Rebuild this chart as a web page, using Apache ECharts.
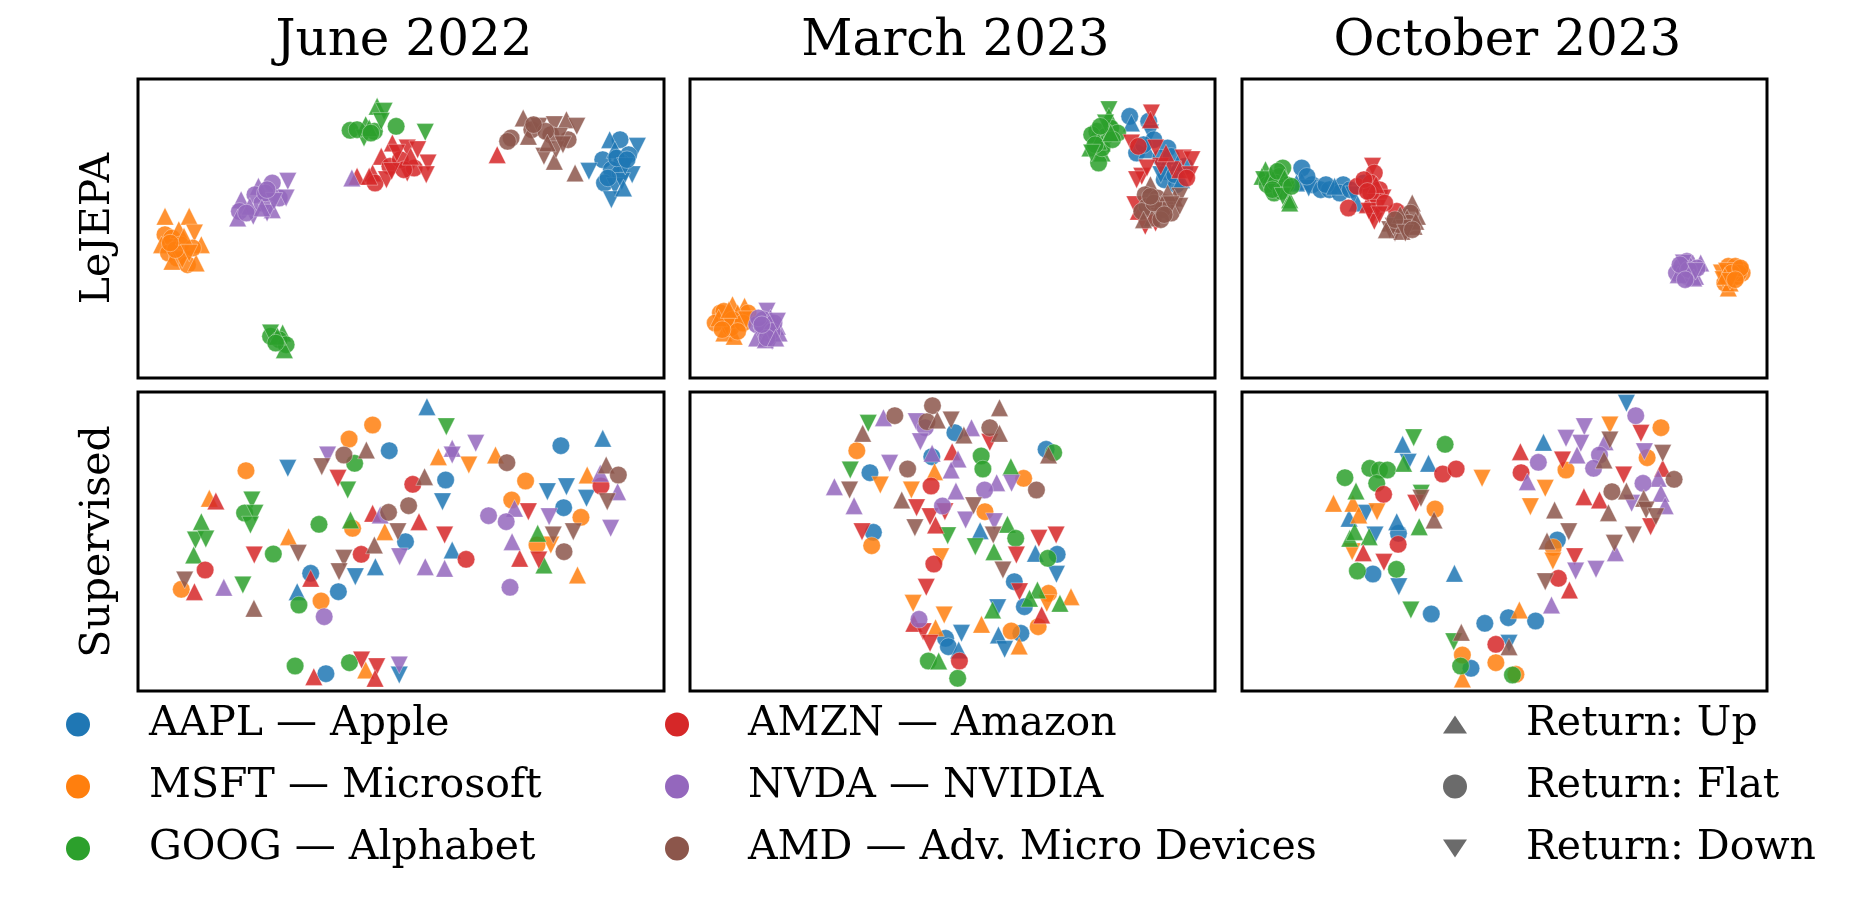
<!DOCTYPE html>
<html><head><meta charset="utf-8">
<script src="https://cdn.jsdelivr.net/npm/echarts@6/dist/echarts.min.js"></script>
<style>html,body{margin:0;padding:0;background:#fff}#c{width:1851px;height:900px}</style>
</head><body><div id="c"></div>
<script>
// ---- categories ----
const TICKERS = ['A','M','G','R','P','B'];
const TICKER_NAMES = ['AAPL — Apple','MSFT — Microsoft','GOOG — Alphabet','AMZN — Amazon','NVDA — NVIDIA','AMD — Adv. Micro Devices'];
const TICKER_COLORS = ['#1f77b4','#ff7f0e','#2ca02c','#d62728','#9467bd','#8c564b'];
const RETURN_NAMES = ['Return: Up','Return: Flat','Return: Down'];
const PERIODS = ['June 2022','March 2023','October 2023'];
const METHODS = ['LeJEPA','Supervised'];

// ---- embedding points: [ticker, return(u/f/d), x, y] ----
const lejepaJun = [
['A','f',139.3,71.5],['A','u',136.3,71.5],['A','d',144.3,69.5],['A','f',141.8,67.0],['A','f',134.3,65.5],['A','f',139.8,64.5],['A','d',130.3,62.0],['A','f',136.8,62.5],['A','f',139.3,61.5],['A','d',142.8,61.0],['A','f',134.8,58.5],['A','d',137.8,57.5],['A','d',136.8,53.5],['A','u',137.8,68.5],['A','d',139.8,59.0],['A','f',138.3,66.0],['A','d',140.8,63.5],['A','f',135.8,60.0],['A','u',140.3,57.0],['A','f',141.3,65.5],
['M','u',7.8,48.5],['M','u',14.8,48.5],['M','d',16.3,43.5],['M','f',7.8,43.0],['M','f',9.8,42.0],['M','u',6.8,40.0],['M','u',11.8,44.5],['M','u',18.3,40.0],['M','f',12.3,40.0],['M','f',8.8,37.5],['M','f',11.3,36.0],['M','f',14.3,34.0],['M','u',16.8,34.5],['M','u',9.8,35.0],['M','d',12.8,35.5],['M','f',15.8,39.0],['M','f',10.8,38.5],['M','u',13.3,42.5],['M','f',9.3,40.5],['M','d',14.8,37.5],
['G','u',69.1,81.5],['G','d',71.1,80.0],['G','f',61.3,74.3],['G','u',65.8,76.0],['G','f',68.3,74.0],['G','d',65.3,72.0],['G','f',74.6,75.5],['G','d',83.0,73.7],['G','f',63.3,74.5],['G','u',66.8,75.0],['G','f',38.3,12.5],['G','d',38.3,13.5],['G','u',41.8,13.5],['G','f',40.8,11.5],['G','f',42.8,10.0],['G','u',42.3,8.5],['G','f',67.3,73.5],['G','u',40.3,12.5],['G','d',70.3,77.0],['G','f',39.8,10.5],
['R','u',73.5,70.5],['R','d',77.8,69.0],['R','d',80.8,68.5],['R','u',70.3,66.5],['R','f',72.8,63.5],['R','d',83.8,64.5],['R','u',67.8,61.5],['R','f',68.5,58.5],['R','d',71.8,59.5],['R','d',77.8,61.5],['R','f',79.8,63.0],['R','u',63.3,60.5],['R','d',83.3,61.0],['R','f',75.8,65.5],['R','u',66.8,60.5],['R','d',74.8,67.5],['R','u',103.8,67.0],['R','f',76.8,62.5],['R','d',73.3,62.0],['R','u',78.8,66.5],
['P','f',38.8,58.5],['P','d',43.3,59.0],['P','u',34.8,57.5],['P','f',33.8,55.0],['P','u',29.8,53.5],['P','f',40.8,54.0],['P','d',42.8,54.0],['P','f',29.3,50.0],['P','u',28.8,48.0],['P','d',33.3,48.5],['P','u',38.8,50.5],['P','f',35.8,52.5],['P','u',32.3,51.5],['P','d',37.3,49.5],['P','u',61.8,60.0],['P','f',36.8,55.5],['P','d',39.3,53.0],['P','f',31.3,49.5],['P','u',35.8,51.0],['P','f',37.3,56.5],
['B','u',111.3,78.0],['B','f',107.8,72.0],['B','f',106.8,71.0],['B','f',113.8,74.5],['B','d',115.8,75.5],['B','d',120.3,76.0],['B','u',123.8,77.5],['B','d',126.8,75.5],['B','f',119.3,73.0],['B','f',124.3,71.5],['B','d',121.8,72.5],['B','u',112.8,72.5],['B','d',117.3,66.5],['B','u',120.3,65.0],['B','d',120.8,68.5],['B','u',126.3,61.5],['B','f',117.8,74.0],['B','d',122.8,70.0],['B','f',114.3,76.0],['B','u',118.3,70.5]
];
const lejepaMar = [
['A','f',127.3,78.5],['A','u',127.8,76.5],['A','f',132.8,77.0],['A','d',133.3,73.5],['A','f',129.3,67.5],['A','u',132.3,68.5],['A','f',138.3,69.0],['A','f',136.3,66.0],['A','f',143.3,63.5],['A','u',138.8,62.0],['A','f',137.3,59.5],['A','f',140.8,58.0],['A','u',137.8,64.5],['A','f',140.3,61.0],['A','f',134.3,71.5],['A','u',142.3,59.5],['A','f',139.3,66.5],['A','d',136.3,61.0],['A','f',131.3,70.0],['A','u',141.3,64.5],
['M','f',8.8,19.5],['M','f',7.3,16.5],['M','u',12.3,22.0],['M','u',15.8,21.5],['M','f',10.8,17.5],['M','f',14.3,18.0],['M','u',9.8,13.5],['M','u',12.8,12.5],['M','f',16.8,19.5],['M','f',11.8,15.0],['M','f',9.8,20.0],['M','u',13.8,19.5],['M','f',12.3,17.5],['M','d',10.8,15.5],['M','f',15.3,16.5],['M','u',8.3,18.0],['M','f',13.8,14.0],['M','u',11.3,20.5],['M','d',16.3,17.5],['M','f',9.3,14.5],
['G','d',121.3,80.5],['G','u',121.3,78.5],['G','f',117.8,74.0],['G','f',121.8,75.0],['G','f',120.3,72.5],['G','u',116.8,72.0],['G','f',123.8,73.5],['G','u',119.3,70.5],['G','u',115.8,69.0],['G','u',119.3,67.5],['G','f',118.3,64.5],['G','f',116.3,73.0],['G','f',119.3,69.0],['G','u',118.3,71.0],['G','f',122.3,71.5],['G','d',120.3,76.5],['G','f',117.3,70.0],['G','u',121.8,73.5],['G','f',118.8,75.5],['G','d',116.3,67.5],
['R','d',133.6,79.5],['R','u',133.3,77.5],['R','d',127.8,70.5],['R','f',129.8,69.5],['R','d',134.8,69.0],['R','d',142.8,66.0],['R','d',145.3,65.5],['R','d',139.8,62.5],['R','u',141.8,62.5],['R','d',144.8,61.0],['R','d',130.8,60.5],['R','d',129.3,59.5],['R','d',131.8,45.5],['R','u',129.8,50.0],['R','d',134.8,46.5],['R','d',136.3,63.5],['R','f',143.8,60.0],['R','d',128.8,52.0],['R','u',137.8,67.5],['R','d',132.3,63.0],
['P','d',22.3,20.0],['P','f',19.3,16.0],['P','f',21.8,15.5],['P','u',25.3,15.5],['P','d',23.8,11.0],['P','u',19.3,12.0],['P','f',22.8,13.5],['P','d',20.8,12.5],['P','u',25.8,13.5],['P','f',21.3,17.5],['P','u',23.3,18.0],['P','f',24.3,16.5],['P','d',20.3,14.5],['P','f',23.8,14.0],['P','u',21.8,11.5],['P','f',19.8,18.0],['P','d',25.3,17.0],['P','f',22.3,12.0],['P','u',24.8,12.0],['P','f',20.8,16.0],
['B','u',133.3,58.0],['B','f',131.8,55.0],['B','f',135.3,54.0],['B','d',141.8,54.5],['B','u',140.3,54.0],['B','f',132.3,51.5],['B','f',137.8,52.5],['B','f',130.8,50.0],['B','d',135.8,48.5],['B','f',139.3,49.5],['B','u',133.8,48.0],['B','f',136.8,50.5],['B','d',141.8,51.5],['B','f',134.3,52.5],['B','u',138.3,55.5],['B','f',136.3,47.5],['B','d',139.3,52.0],['B','f',133.3,54.5],['B','u',131.3,47.5],['B','f',137.3,49.0]
];
const lejepaOct = [
['A','f',17.3,63.0],['A','u',17.3,59.0],['A','f',20.3,58.0],['A','f',22.8,56.5],['A','f',25.3,56.5],['A','f',29.3,58.0],['A','f',28.3,55.5],['A','u',33.3,52.5],['A','f',35.3,58.5],['A','u',15.8,58.5],['A','f',24.3,58.0],['A','d',19.3,57.0],['A','f',31.3,56.5],['A','u',26.8,57.5],['A','f',18.8,60.5],['A','d',32.3,55.0],
['M','f',140.8,33.5],['M','f',144.3,32.5],['M','d',138.8,31.5],['M','f',141.8,30.0],['M','u',140.8,27.0],['M','f',139.8,28.5],['M','f',144.8,31.5],['M','f',142.3,32.5],['M','u',140.3,30.5],['M','f',143.3,30.5],['M','d',139.3,29.5],['M','f',142.8,33.5],['M','u',141.3,28.5],['M','f',143.8,31.5],['M','d',140.3,32.0],['M','f',141.8,31.5],['M','u',139.8,30.5],['M','f',144.3,33.0],['M','d',141.3,29.0],['M','f',142.8,29.5],
['G','u',6.8,62.5],['G','f',11.8,63.0],['G','f',8.3,59.5],['G','u',5.8,60.5],['G','f',10.8,60.5],['G','f',9.3,55.5],['G','u',13.8,53.5],['G','f',12.8,58.0],['G','u',13.8,52.5],['G','f',7.3,58.0],['G','d',12.8,56.5],['G','f',9.8,58.5],['G','u',8.3,61.0],['G','f',11.3,56.0],['G','d',6.3,59.5],['G','f',10.3,62.0],['G','u',12.3,60.0],['G','f',8.8,56.5],['G','d',11.8,54.5],['G','f',14.3,57.5],
['R','d',37.8,63.5],['R','f',38.3,61.5],['R','f',33.3,57.5],['R','f',37.3,58.5],['R','f',39.8,56.5],['R','d',38.3,53.5],['R','f',30.8,51.0],['R','d',40.8,54.0],['R','d',37.8,48.5],['R','d',38.3,47.0],['R','f',44.8,50.0],['R','u',36.3,52.0],['R','f',37.3,55.5],['R','d',39.3,51.0],['R','f',35.3,59.5],['R','u',38.8,58.0],['R','d',36.8,50.0],['R','f',41.3,52.5],['R','d',39.8,49.0],['R','f',36.3,56.0],
['P','f',128.8,35.0],['P','u',126.8,32.5],['P','f',130.8,32.5],['P','u',132.8,34.5],['P','f',125.8,31.5],['P','d',129.3,30.0],['P','u',131.3,30.5],['P','f',128.3,32.0],['P','u',129.8,34.0],['P','f',127.3,33.5],['P','d',130.3,31.5],['P','f',128.8,30.5],['P','u',126.3,31.0],['P','f',131.8,33.0],['P','d',127.8,34.5],['P','f',129.3,32.5],['P','u',130.8,30.0],['P','f',126.8,34.0],['P','d',131.3,32.0],['P','f',128.3,29.5],
['B','u',49.3,52.5],['B','u',42.8,46.5],['B','f',46.8,47.5],['B','u',50.8,48.5],['B','d',42.8,44.5],['B','u',49.8,45.5],['B','d',44.3,43.5],['B','u',46.3,44.0],['B','f',48.8,49.5],['B','u',41.8,44.5],['B','f',45.3,46.0],['B','u',47.8,48.0],['B','d',43.8,45.5],['B','f',48.3,46.5],['B','u',45.8,49.0],['B','d',46.8,45.0],['B','f',44.3,47.5],['B','u',50.3,47.0],['B','d',47.3,43.5],['B','f',49.3,44.5]
];
const supervisedJun = [
['A','u',83.5,85.3],['A','f',72.6,72.1],['A','d',43.3,66.8],['A','f',88.9,63.3],['A','d',88.0,56.8],['A','f',122.2,73.6],['A','u',134.3,75.8],['A','d',118.3,59.8],['A','d',123.8,61.3],['A','d',129.6,57.8],['A','f',123.0,55.0],['A','u',90.8,42.3],['A','f',77.3,44.8],['A','d',62.8,34.3],['A','u',68.6,37.3],['A','f',57.9,29.8],['A','f',49.9,35.3],['A','u',46.0,29.8],['A','f',54.3,5.2],['A','d',75.5,4.8],
['M','f',67.8,79.8],['M','f',61.0,75.6],['M','f',31.2,66.1],['M','u',86.8,70.3],['M','d',95.6,67.8],['M','u',103.3,70.8],['M','f',112.0,63.0],['M','u',129.8,64.8],['M','f',108.0,57.3],['M','f',128.0,52.1],['M','f',115.3,43.8],['M','d',119.3,43.8],['M','u',127.0,34.8],['M','f',62.0,48.8],['M','u',71.3,47.8],['M','f',52.9,27.0],['M','u',43.5,46.3],['M','u',20.6,57.8],['M','f',12.5,30.5],['M','u',65.8,6.3],
['G','d',89.1,79.3],['G','f',62.6,68.3],['G','d',60.6,60.3],['G','u',115.5,47.3],['G','u',117.3,37.8],['G','u',61.4,51.3],['G','f',52.3,50.0],['G','f',39.1,41.1],['G','f',46.5,25.8],['G','d',32.9,57.3],['G','f',30.8,53.4],['G','d',33.8,53.3],['G','d',32.5,49.8],['G','u',18.3,50.8],['G','d',16.6,45.3],['G','d',19.6,45.6],['G','u',16.1,40.8],['G','d',30.3,31.8],['G','f',45.4,7.5],['G','f',61.1,8.5],
['R','d',57.8,63.8],['R','f',79.4,62.0],['R','f',133.8,61.5],['R','d',112.8,53.8],['R','u',110.3,39.8],['R','d',115.8,39.3],['R','f',94.8,39.5],['R','d',88.6,46.8],['R','u',81.2,50.8],['R','u',67.8,53.3],['R','f',64.5,41.0],['R','d',33.6,40.8],['R','u',49.9,33.8],['R','u',22.5,57.0],['R','f',19.4,36.3],['R','u',16.3,29.8],['R','u',50.8,4.3],['R','d',64.6,9.3],['R','d',69.0,7.3],['R','u',68.5,3.8],
['P','d',54.8,70.8],['P','u',90.8,72.8],['P','d',90.8,70.8],['P','d',97.6,74.3],['P','u',133.6,65.3],['P','u',138.6,59.8],['P','u',108.8,54.8],['P','f',101.3,52.6],['P','f',106.4,50.8],['P','d',118.8,52.3],['P','d',136.6,48.8],['P','u',108.1,44.8],['P','f',107.5,31.1],['P','u',83.0,37.3],['P','u',88.6,36.8],['P','u',70.0,52.8],['P','d',75.6,40.3],['P','f',53.8,22.3],['P','u',24.8,31.1],['P','d',75.5,7.8],
['B','u',66.0,72.3],['B','f',59.5,70.8],['B','d',53.1,67.3],['B','f',106.6,68.5],['B','u',82.8,64.3],['B','u',135.3,67.8],['B','f',138.8,64.8],['B','d',135.6,56.8],['B','d',125.8,47.8],['B','d',120.0,46.8],['B','f',123.1,41.8],['B','f',78.2,55.6],['B','f',72.4,53.6],['B','d',75.1,47.8],['B','u',68.3,43.8],['B','d',59.5,39.8],['B','d',58.1,35.8],['B','d',46.3,41.3],['B','u',33.5,24.8],['B','d',13.5,33.3]
];
const supervisedMar = [
['A','f',76.7,77.5],['A','f',70.0,70.3],['A','f',103.1,72.5],['A','f',52.1,65.5],['A','u',84.0,48.1],['A','f',53.1,47.6],['A','u',100.0,41.3],['A','f',106.3,41.0],['A','d',106.1,35.0],['A','f',93.9,32.8],['A','f',96.8,25.3],['A','d',89.1,25.0],['A','f',95.8,17.3],['A','u',89.3,16.8],['A','d',91.1,12.5],['A','d',78.6,17.3],['A','f',74.0,15.8],['A','f',74.8,13.3],['A','u',77.8,12.3],
['M','f',48.3,72.1],['M','f',96.6,63.8],['M','u',70.8,65.8],['M','d',55.1,61.8],['M','d',64.1,60.3],['M','f',85.4,53.8],['M','f',52.6,43.6],['M','d',72.6,40.3],['M','f',103.8,29.3],['M','d',103.3,26.3],['M','u',110.3,28.3],['M','f',100.8,19.3],['M','d',64.6,26.3],['M','d',73.6,22.8],['M','u',71.1,19.0],['M','u',84.4,20.0],['M','f',93.0,18.0],['M','u',95.3,13.5],
['G','d',51.6,80.3],['G','f',84.3,70.5],['G','f',84.8,66.6],['G','f',105.3,71.5],['G','u',92.9,67.3],['G','d',46.4,66.3],['G','d',74.6,46.6],['G','u',91.9,50.0],['G','f',94.3,45.8],['G','d',82.6,43.3],['G','u',88.0,41.8],['G','f',103.6,39.8],['G','u',100.6,30.3],['G','u',98.3,27.8],['G','u',107.1,26.3],['G','u',87.6,24.3],['G','f',69.0,9.0],['G','u',72.0,9.0],['G','f',77.5,3.8],
['R','d',86.8,74.6],['R','u',75.9,71.8],['R','f',69.8,61.5],['R','d',65.6,55.0],['R','d',69.5,52.3],['R','d',73.8,53.8],['R','u',71.1,49.8],['R','d',49.8,47.8],['R','d',94.5,40.8],['R','d',101.0,45.8],['R','d',106.0,46.8],['R','f',70.6,38.1],['R','d',95.4,29.8],['R','u',101.8,22.8],['R','d',68.4,31.1],['R','u',64.8,20.3],['R','d',67.5,17.8],['R','d',69.5,14.3],['R','f',78.0,9.0],
['P','u',56.0,82.0],['P','d',65.5,80.8],['P','f',68.1,79.0],['P','u',81.5,79.0],['P','d',66.7,74.8],['P','u',70.1,71.3],['P','u',77.6,69.6],['P','u',88.8,62.5],['P','d',93.1,62.3],['P','f',85.3,60.3],['P','u',75.6,66.3],['P','d',57.8,68.3],['P','u',41.8,61.3],['P','u',47.5,55.6],['P','f',73.1,55.5],['P','u',77.0,60.0],['P','d',79.8,51.3],['P','d',88.1,50.8],['P','f',66.3,21.5],
['B','f',70.2,85.6],['B','u',89.6,85.0],['B','f',59.3,82.6],['B','f',68.6,80.8],['B','u',71.6,81.3],['B','d',75.6,81.3],['B','u',79.3,76.8],['B','f',86.8,79.0],['B','u',89.6,77.3],['B','u',50.0,77.3],['B','u',103.8,70.8],['B','f',100.3,60.3],['B','f',63.0,66.6],['B','d',46.2,60.3],['B','u',61.3,57.3],['B','d',82.1,55.6],['B','d',65.1,49.0],['B','d',87.8,46.8],['B','d',90.6,36.3]
];
const supervisedOct = [
['A','d',111.3,86.3],['A','u',87.3,74.6],['A','f',91.3,45.3],['A','f',85.0,21.0],['A','f',77.1,22.0],['A','f',70.3,20.3],['A','d',77.3,14.3],['A','f',66.3,6.8],['A','f',54.8,23.1],['A','u',61.5,35.3],['A','d',45.4,31.3],['A','f',37.9,35.1],['A','d',38.5,46.8],['A','f',45.3,47.3],['A','u',44.8,50.8],['A','d',35.8,53.3],['A','u',31.0,51.8],['A','u',46.5,74.0],['A','d',48.1,68.6],['A','u',54.0,68.3],
['M','f',121.3,79.0],['M','d',106.5,79.8],['M','f',93.8,66.3],['M','f',117.3,70.0],['M','d',87.8,60.8],['M','d',83.5,55.3],['M','f',90.1,43.1],['M','d',90.0,39.0],['M','u',80.3,24.3],['M','f',73.5,8.5],['M','f',79.3,5.0],['M','f',63.8,10.8],['M','u',63.8,3.6],['M','d',31.9,41.8],['M','f',55.9,54.6],['M','u',26.5,56.3],['M','u',32.1,56.3],['M','u',33.8,52.8],['M','d',39.1,53.8],['M','d',69.5,63.8],
['G','f',78.3,4.8],['G','d',61.3,14.8],['G','f',63.3,7.5],['G','d',48.9,24.3],['G','f',44.7,36.5],['G','f',33.4,36.0],['G','u',31.2,45.8],['G','u',36.8,46.3],['G','u',51.3,49.3],['G','d',51.9,59.3],['G','u',32.6,47.8],['G','u',33.0,60.0],['G','f',29.8,64.0],['G','f',37.0,66.8],['G','f',39.8,66.3],['G','f',42.1,66.3],['G','f',39.0,62.3],['G','d',49.7,76.0],['G','f',58.8,74.0],['G','u',46.8,68.3],
['R','d',115.5,77.3],['R','u',80.6,71.8],['R','d',92.8,69.3],['R','u',121.8,66.8],['R','d',110.5,64.8],['R','f',80.8,65.5],['R','u',99.0,58.3],['R','u',103.5,57.3],['R','d',118.3,49.3],['R','d',96.3,40.3],['R','f',91.6,33.8],['R','u',94.8,30.3],['R','f',73.5,14.0],['R','d',41.1,38.6],['R','u',35.1,41.5],['R','f',45.2,44.0],['R','d',50.3,56.3],['R','f',41.0,59.0],['R','f',58.1,65.1],['R','f',62.0,66.6],
['P','f',114.0,82.6],['P','d',99.1,79.3],['P','d',93.8,75.8],['P','d',98.1,74.3],['P','u',105.1,74.8],['P','f',85.8,68.6],['P','u',97.0,70.8],['P','f',103.5,70.8],['P','f',101.8,66.8],['P','d',116.5,71.8],['P','u',120.5,63.8],['P','f',116.1,62.3],['P','u',82.6,62.8],['P','u',121.3,59.3],['P','d',112.8,56.3],['P','u',122.5,55.6],['P','u',108.1,41.5],['P','d',96.6,36.0],['P','d',102.5,36.5],['P','u',89.6,25.8],
['B','d',106.5,75.3],['B','u',104.8,69.3],['B','d',121.8,71.3],['B','f',125.1,63.5],['B','f',107.1,59.8],['B','u',111.3,60.0],['B','u',116.3,57.8],['B','d',117.0,54.3],['B','d',119.8,52.3],['B','u',106.1,53.5],['B','u',90.5,54.3],['B','d',113.3,46.8],['B','d',94.6,47.8],['B','u',88.3,45.0],['B','d',107.8,44.3],['B','d',87.8,32.8],['B','u',77.3,13.3],['B','u',63.5,17.6],['B','u',55.6,51.3],['B','d',51.8,57.8]
];

// ---- layout ----
const FONT = 'DejaVu Serif';
const COL_LEFT = [138, 690, 1242];
const COL_WIDTH = [526, 525, 525];
const ROW_TOP = [79, 392];
const ROW_HEIGHT = 299;
const X_RANGE = [0, 152];
const Y_RANGE = [0, 89.7];

const panels = [lejepaJun, lejepaMar, lejepaOct, supervisedJun, supervisedMar, supervisedOct];
const grid = [], xAxis = [], yAxis = [], series = [];
panels.forEach((pts, pi) => {
  const row = Math.floor(pi / 3), col = pi % 3;
  grid.push({left: COL_LEFT[col], top: ROW_TOP[row], width: COL_WIDTH[col], height: ROW_HEIGHT,
    show: true, borderColor: '#000', borderWidth: 3, backgroundColor: 'transparent'});
  xAxis.push({gridIndex: pi, type: 'value', min: X_RANGE[0], max: X_RANGE[1], show: false});
  yAxis.push({gridIndex: pi, type: 'value', min: Y_RANGE[0], max: Y_RANGE[1], show: col === 0,
    name: col === 0 ? METHODS[row] : '', nameLocation: 'middle', nameRotate: 90, nameGap: 19,
    nameTextStyle: {fontFamily: FONT, fontSize: 41, color: '#000'},
    axisLine: {show: false}, axisTick: {show: false}, axisLabel: {show: false}, splitLine: {show: false}});
  TICKERS.forEach((t, ti) => {
    series.push({
      type: 'scatter', name: TICKER_NAMES[ti], xAxisIndex: pi, yAxisIndex: pi,
      symbol: 'circle', symbolSize: 17.5, silent: true, animation: false,
      itemStyle: {color: TICKER_COLORS[ti], opacity: 0.85, borderColor: '#ffffff', borderWidth: 0.4},
      data: pts.filter(p => p[0] === t).map(p => ({
        value: [p[2], p[3]],
        symbol: p[1] === 'f' ? 'circle' : 'triangle',
        symbolRotate: p[1] === 'd' ? 180 : 0
      }))
    });
  });
});
RETURN_NAMES.forEach(n => series.push({type: 'scatter', name: n, xAxisIndex: 0, yAxisIndex: 0, data: [],
  itemStyle: {color: '#6b6b6b'}}));

const legendBase = {orient: 'vertical', top: 699, itemWidth: 24, itemHeight: 24, itemGap: 21,
  selectedMode: false, itemStyle: {opacity: 1, borderWidth: 0},
  textStyle: {fontFamily: FONT, fontSize: 41, lineHeight: 41, color: '#000', padding: [0, 0, 0, 54]}};
const TRI_UP = 'path://M12,0L24,18L0,18Z';
const TRI_DOWN = 'path://M0,0L24,0L12,18Z';

const option = {
  backgroundColor: '#fff',
  animation: false,
  title: PERIODS.map((p, i) => ({text: p, left: COL_LEFT[i] + COL_WIDTH[i] / 2 - 2, top: 12, textAlign: 'center',
    textStyle: {fontFamily: FONT, fontSize: 50, fontWeight: 'normal', color: '#000'}})),
  grid, xAxis, yAxis, series,
  legend: [
    Object.assign({}, legendBase, {left: 61, data: TICKER_NAMES.slice(0, 3).map(n => ({name: n, icon: 'circle'}))}),
    Object.assign({}, legendBase, {left: 660, data: TICKER_NAMES.slice(3, 6).map(n => ({name: n, icon: 'circle'}))}),
    Object.assign({}, legendBase, {left: 1438, data: [
      {name: RETURN_NAMES[0], icon: TRI_UP}, {name: RETURN_NAMES[1], icon: 'circle'}, {name: RETURN_NAMES[2], icon: TRI_DOWN}]})
  ]
};
const chart = echarts.init(document.getElementById('c'), null, {renderer: 'canvas'});
chart.setOption(option);
</script></body></html>
